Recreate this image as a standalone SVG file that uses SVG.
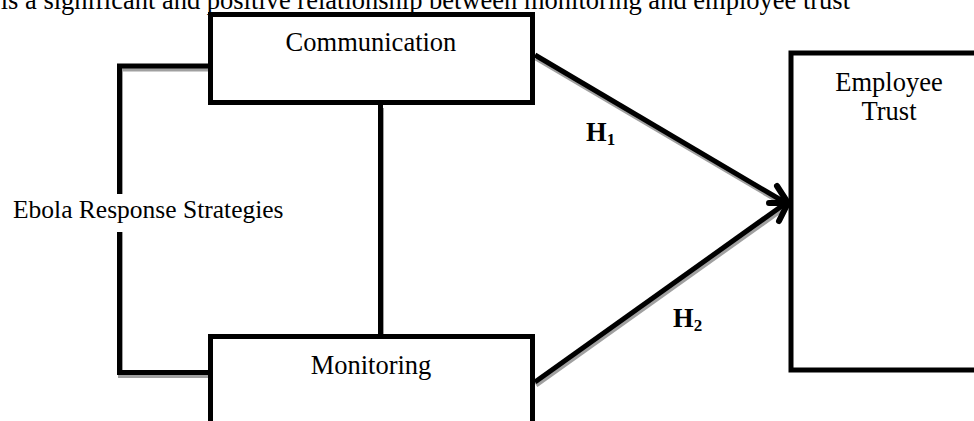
<svg xmlns="http://www.w3.org/2000/svg" width="974" height="421" viewBox="0 0 974 421">
<defs>
<style>
.t{font-family:"Liberation Serif","Times New Roman",serif;font-size:26.5px;fill:#000}
.b{font-weight:bold}
.box{fill:#fff;stroke:#000;stroke-width:5}
.ln{fill:none;stroke:#000;stroke-width:5;stroke-linejoin:miter}
.sh{fill:none;stroke:#a0a0a0;stroke-width:5}
</style>
</defs>
<rect width="974" height="421" fill="#fff"/>
<text class="t" x="850" y="9" text-anchor="end">is a significant and positive relationship between monitoring and employee trust</text>
<g id="connectors">
<g transform="translate(1,3)">
<polyline class="sh" points="208,66 119.5,66 119.5,372.5 208,372.5"/>
<line class="sh" x1="380.5" y1="105" x2="380.5" y2="334"/>
<line class="sh" x1="535" y1="55" x2="786" y2="203"/>
<line class="sh" x1="535" y1="382" x2="786" y2="203"/>
</g>
<polyline class="ln" points="208,66 119.5,66 119.5,372.5 208,372.5"/>
<line class="ln" x1="380.5" y1="105" x2="380.5" y2="334"/>
<line class="ln" x1="535" y1="55" x2="786" y2="203"/>
<line class="ln" x1="535" y1="382" x2="786" y2="203"/>
<path d="M777,186 L788,203 L779,221 M769,203 L788,203" fill="none" stroke="#000" stroke-width="6" stroke-linecap="round" stroke-linejoin="round"/>
</g>
<g id="label-strategies">
<rect x="12" y="194" width="272" height="38" fill="#fff"/>
<text class="t" x="13" y="218" style="font-size:25.5px">Ebola Response Strategies</text>
</g>
<g id="node-communication">
<rect class="box" x="210.5" y="14.5" width="322" height="88"/>
<text class="t" x="371" y="51" text-anchor="middle">Communication</text>
</g>
<g id="node-monitoring">
<rect class="box" x="210.5" y="336.5" width="322" height="120"/>
<text class="t" x="371" y="374" text-anchor="middle">Monitoring</text>
</g>
<g id="node-trust">
<rect class="box" x="791" y="53" width="200" height="317" stroke-width="4.5"/>
<text class="t" x="889" y="91" text-anchor="middle">Employee</text>
<text class="t" x="889" y="120" text-anchor="middle">Trust</text>
</g>
<g id="labels-h">
<text class="t b" x="586" y="141">H<tspan font-size="17" dy="4">1</tspan></text>
<text class="t b" x="673" y="327">H<tspan font-size="17" dy="4">2</tspan></text>
</g>
</svg>
